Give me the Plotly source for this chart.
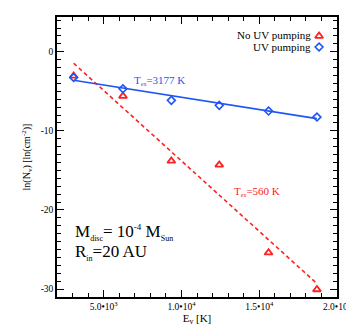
import plotly.graph_objects as go

# Data
energy = [3070, 6240, 9350, 12430, 15600, 18710]
ln_no_uv = [-3.05, -5.6, -13.8, -14.3, -25.4, -30.05]
ln_uv = [-3.25, -4.67, -6.14, -6.77, -7.49, -8.25]

fit_x = [3070, 18710]
fit_uv = [-3.6, -8.45]
fit_no_uv = [-1.45, -29.3]

x_tickvals = [5000, 10000, 15000, 20000]
x_ticktext = ["5.0•10<sup>3</sup>", "1.0•10<sup>4</sup>", "1.5•10<sup>4</sup>", "2.0•10<sup>4</sup>"]
y_tickvals = [0, -10, -20, -30]
y_ticktext = ["0", "-10", "-20", "-30"]

RED = "#ff2020"
BLUE = "#1f55f5"
FONT = "Liberation Serif, Times New Roman, serif"


def small(t, px):
    return "<span style='font-size:%dpx'>%s</span>" % (px, t)


fig = go.Figure()
fig.add_trace(go.Scatter(x=fit_x, y=fit_no_uv, mode="lines",
                         line=dict(color=RED, width=1.6, dash="4px,3px"), showlegend=False))
fig.add_trace(go.Scatter(x=fit_x, y=fit_uv, mode="lines",
                         line=dict(color=BLUE, width=1.6), showlegend=False))
fig.add_trace(go.Scatter(x=energy, y=ln_no_uv, mode="markers",
                         marker=dict(symbol="triangle-up-open", size=7, color=RED,
                                     line=dict(width=1.8, color=RED)), showlegend=False))
fig.add_trace(go.Scatter(x=energy, y=ln_uv, mode="markers",
                         marker=dict(symbol="diamond-open", size=6, color=BLUE,
                                     line=dict(width=1.6, color=BLUE)), showlegend=False))

# Legend drawn as overlay markers + right-aligned text
fig.add_trace(go.Scatter(x=[0.936], y=[0.932], xaxis="x2", yaxis="y2", mode="markers",
                         marker=dict(symbol="triangle-up-open", size=7, color=RED,
                                     line=dict(width=1.8, color=RED)), showlegend=False))
fig.add_trace(go.Scatter(x=[0.936], y=[0.893], xaxis="x2", yaxis="y2", mode="markers",
                         marker=dict(symbol="diamond-open", size=6, color=BLUE,
                                     line=dict(width=1.6, color=BLUE)), showlegend=False))

axis_common = dict(showline=True, linecolor="black", linewidth=1.5, mirror="allticks",
                   ticks="inside", tickcolor="black", tickwidth=1.2, ticklen=7,
                   showgrid=False, zeroline=False, automargin=False,
                   tickfont=dict(family=FONT, size=9.5, color="black"))

# page body has an 8px margin, so the figure is 8px smaller than the window
fig.update_layout(
    width=346, height=326,
    margin=dict(l=49, r=17, t=9, b=37),
    paper_bgcolor="white", plot_bgcolor="white",
    font=dict(family=FONT, color="black"),
    xaxis=dict(range=[2000, 20000], tickvals=x_tickvals, ticktext=x_ticktext,
               minor=dict(dtick=1000, tick0=0, ticks="inside", ticklen=4, tickcolor="black", tickwidth=1.2),
               title=dict(text="E<sub>v</sub> [K]", font=dict(family=FONT, size=11), standoff=0),
               **axis_common),
    yaxis=dict(range=[-31, 4.4], tickvals=y_tickvals, ticktext=y_ticktext,
               minor=dict(dtick=1, tick0=0, ticks="inside", ticklen=4, tickcolor="black", tickwidth=1.2),
               title=dict(text="ln(N<sub>v</sub>) [ln(cm<sup>-2</sup>)]", font=dict(family=FONT, size=10), standoff=8),
               **axis_common),
    xaxis2=dict(overlaying="x", range=[0, 1], visible=False),
    yaxis2=dict(overlaying="y", range=[0, 1], visible=False),
    annotations=[
        dict(x=0.914, y=0.934, xref="paper", yref="paper", xanchor="right", yanchor="middle",
             text="No UV pumping", showarrow=False, font=dict(family=FONT, size=11, color="black")),
        dict(x=0.914, y=0.893, xref="paper", yref="paper", xanchor="right", yanchor="middle",
             text="UV pumping", showarrow=False, font=dict(family=FONT, size=11, color="black")),
        dict(x=6820, y=-3.6, xanchor="left", yanchor="middle",
             text="T<sub>" + small("ex", 6) + "</sub>=3177 K", showarrow=False,
             font=dict(family=FONT, size=11, color=BLUE)),
        dict(x=13250, y=-17.6, xanchor="left", yanchor="middle",
             text="T<sub>" + small("ex", 6) + "</sub>=560 K", showarrow=False,
             font=dict(family=FONT, size=11, color=RED)),
        dict(x=3050, y=-22.8, xanchor="left", yanchor="middle",
             text="M<sub>" + small("disc", 8) + "</sub>= 10<sup>" + small("-4", 9) + "</sup> M<sub>" + small("Sun", 8) + "</sub>",
             showarrow=False, font=dict(family=FONT, size=17, color="black")),
        dict(x=3050, y=-25.4, xanchor="left", yanchor="middle",
             text="R<sub>" + small("in", 8) + "</sub>=20 AU", showarrow=False,
             font=dict(family=FONT, size=17, color="black")),
    ],
)

fig.write_html("out.html")
